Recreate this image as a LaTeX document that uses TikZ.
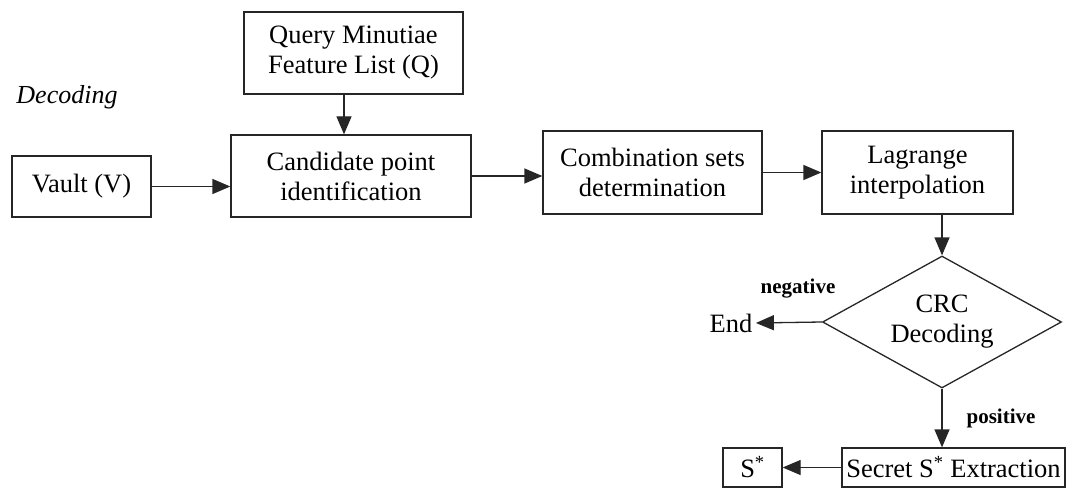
\documentclass[tikz,border=0pt]{standalone}
\usepackage{fontspec}
\setmainfont{Liberation Serif}
\usetikzlibrary{shapes.geometric,arrows.meta}
\begin{document}
\begin{tikzpicture}[x=1pt,y=-1pt,
  box/.style={draw=black!85,line width=1.3pt,inner sep=0pt,align=center,font=\fontsize{26.5}{30}\selectfont},
  arr/.style={draw=black!85,line width=1.3pt,-{Triangle[length=18pt,width=15pt]}},
  lbl/.style={font=\fontsize{21}{24}\selectfont\bfseries}]
\useasboundingbox (0,0) rectangle (1075,489);
\node[font=\fontsize{26}{30}\selectfont\itshape] (dec) at (67,97) {Decoding};
\node[box,minimum width=219pt,minimum height=82pt] (q) at (353.5,53) {Query Minutiae\\Feature List (Q)};
\node[box,minimum width=240pt,minimum height=82pt] (c) at (351,176) {Candidate point\\identification};
\node[box,minimum width=139pt,minimum height=61pt] (v) at (81.5,186.5) {Vault (V)};
\node[box,minimum width=219pt,minimum height=83pt] (cs) at (652.5,172.5) {Combination sets\\determination};
\node[box,minimum width=191pt,minimum height=83pt] (l) at (917.5,172.5) {Lagrange\\interpolation};
\node[box,diamond,shape aspect=1.81,minimum width=239pt,minimum height=132pt] (crc) at (942,322) {CRC\\Decoding};
\node[font=\fontsize{26.5}{30}\selectfont] (end) at (731,323) {End};
\node[box,minimum width=223pt,minimum height=39pt] (sec) at (953.5,467.5) {Secret S\textsuperscript{*} Extraction};
\node[box,minimum width=59pt,minimum height=39pt] (s) at (752.5,467.5) {S\textsuperscript{*}};
\node[lbl] (neg) at (798,289) {negative};
\node[lbl] (pos) at (1001,418) {positive};
\draw[arr] (q.south -| 344,0) -- (c.north -| 344,0);
\draw[arr] (v.east) -- (v.east -| c.west);
\draw[arr] (c.east |- 0,176) -- (cs.west |- 0,176);
\draw[arr] (cs.east) -- (l.west);
\draw[arr] (l.south -| crc.north) -- (crc.north);
\draw[arr] (crc.west) -- (end.east);
\draw[arr] (crc.south) -- (crc.south |- sec.north);
\draw[arr] (sec.west) -- (s.east);
\end{tikzpicture}
\end{document}
